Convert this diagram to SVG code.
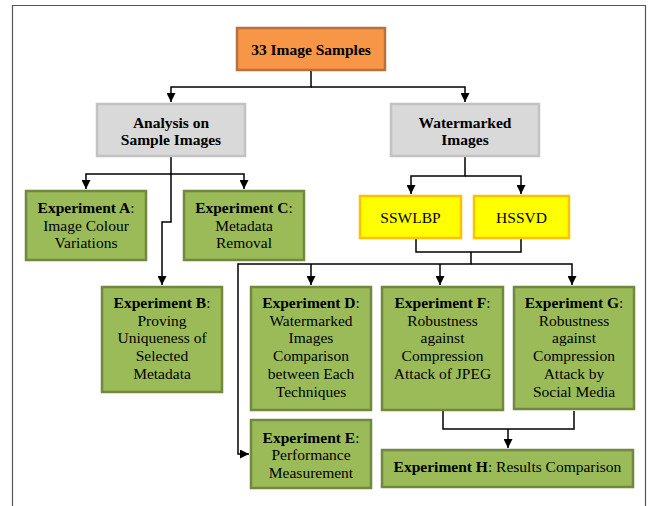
<svg xmlns="http://www.w3.org/2000/svg" width="652" height="506" viewBox="0 0 652 506">
<defs>
<marker id="ah" viewBox="0 0 10 10" markerWidth="10" markerHeight="9" refX="10" refY="5" orient="auto" markerUnits="userSpaceOnUse">
<path d="M0,0 L10,5 L0,10 z" fill="#000"/>
</marker>
<style>
text{font-family:"Liberation Serif","Times New Roman",serif;font-size:15.5px;fill:#000;text-anchor:middle}
.b{font-weight:bold}
.orange{fill:#F79646;stroke:#B8703C;stroke-width:2.5}
.gray{fill:#D9D9D9;stroke:#C2C2C2;stroke-width:2.5}
.yellow{fill:#FFFF00;stroke:#FFC000;stroke-width:2.5}
.green{fill:#9BBB59;stroke:#71893F;stroke-width:2.5}
.c{fill:none;stroke:#000;stroke-width:1.5}
.ca{fill:none;stroke:#000;stroke-width:1.5;marker-end:url(#ah)}
</style>
</defs>
<rect width="652" height="506" fill="#fff"/>
<path d="M12.5,506 V5.5 H645.5 V506" fill="none" stroke="#555" stroke-width="1.2"/>

<g id="connectors">
<path class="ca" d="M311,71 V87 H171 V102"/>
<path class="ca" d="M311,87 H465 V102"/>
<path class="ca" d="M171,157 V174 H86 V189"/>
<path class="ca" d="M171,174 H244 V189"/>
<path class="ca" d="M171,174 V222 H162 V285"/>
<path class="ca" d="M465,157 V176 H411 V194"/>
<path class="ca" d="M465,176 H521 V194"/>
<path class="c" d="M416,239 V252 H521 V239"/>
<path class="ca" d="M471,252 V264 H238 V454 H249"/>
<path class="ca" d="M311,264 V285"/>
<path class="ca" d="M440,264 V285"/>
<path class="ca" d="M471,264 H572 V285"/>
<path class="c" d="M443,411 V429 H574 V411"/>
<path class="ca" d="M508,429 V448"/>
</g>

<g id="samples">
<rect class="orange" x="237" y="28" width="148" height="42"/>
<text class="b" x="311" y="55" font-size="15.5">33 Image Samples</text>
</g>

<g id="analysis">
<rect class="gray" x="97" y="104" width="148" height="52"/>
<text class="b" x="171" y="127.5">Analysis on</text>
<text class="b" x="171" y="145">Sample Images</text>
</g>

<g id="watermarked">
<rect class="gray" x="391" y="104" width="148" height="52"/>
<text class="b" x="465" y="127.5">Watermarked</text>
<text class="b" x="465" y="145">Images</text>
</g>

<g id="expA">
<rect class="green" x="26" y="191" width="120" height="69"/>
<text x="86" y="212.5"><tspan class="b">Experiment A</tspan>:</text>
<text x="86" y="230.5">Image Colour</text>
<text x="86" y="247.5">Variations</text>
</g>

<g id="expC">
<rect class="green" x="184" y="191" width="120" height="69"/>
<text x="244" y="212.5"><tspan class="b">Experiment C</tspan>:</text>
<text x="244" y="230.5">Metadata</text>
<text x="244" y="247.5">Removal</text>
</g>

<g id="expB">
<rect class="green" x="102" y="287" width="120" height="105"/>
<text x="162" y="308"><tspan class="b">Experiment B</tspan>:</text>
<text x="162" y="325.5">Proving</text>
<text x="162" y="343">Uniqueness of</text>
<text x="162" y="361">Selected</text>
<text x="162" y="379">Metadata</text>
</g>

<g id="sswlbp">
<rect class="yellow" x="360" y="196" width="101" height="42"/>
<text x="410.5" y="222.5" font-size="16">SSWLBP</text>
</g>

<g id="hssvd">
<rect class="yellow" x="474" y="196" width="95" height="42"/>
<text x="521.5" y="222.5" font-size="16">HSSVD</text>
</g>

<g id="expD">
<rect class="green" x="251" y="287" width="120" height="123"/>
<text x="311" y="308"><tspan class="b">Experiment D</tspan>:</text>
<text x="311" y="325.5">Watermarked</text>
<text x="311" y="343">Images</text>
<text x="311" y="361">Comparison</text>
<text x="311" y="378.5">between Each</text>
<text x="311" y="396.5">Techniques</text>
</g>

<g id="expF">
<rect class="green" x="382" y="287" width="121" height="123"/>
<text x="442.5" y="308"><tspan class="b">Experiment F</tspan>:</text>
<text x="442.5" y="325.5">Robustness</text>
<text x="442.5" y="343">against</text>
<text x="442.5" y="361">Compression</text>
<text x="442.5" y="378.5">Attack of JPEG</text>
</g>

<g id="expG">
<rect class="green" x="514" y="287" width="120" height="122"/>
<text x="574" y="308"><tspan class="b">Experiment G</tspan>:</text>
<text x="574" y="325.5">Robustness</text>
<text x="574" y="343">against</text>
<text x="574" y="361">Compression</text>
<text x="574" y="378.5">Attack by</text>
<text x="574" y="396.5">Social Media</text>
</g>

<g id="expE">
<rect class="green" x="251" y="420" width="120" height="68"/>
<text x="311" y="442.5"><tspan class="b">Experiment E</tspan>:</text>
<text x="311" y="460">Performance</text>
<text x="311" y="477.5">Measurement</text>
</g>

<g id="expH">
<rect class="green" x="382" y="450" width="251" height="37"/>
<text x="507.5" y="472"><tspan class="b">Experiment H</tspan>: Results Comparison</text>
</g>
</svg>
